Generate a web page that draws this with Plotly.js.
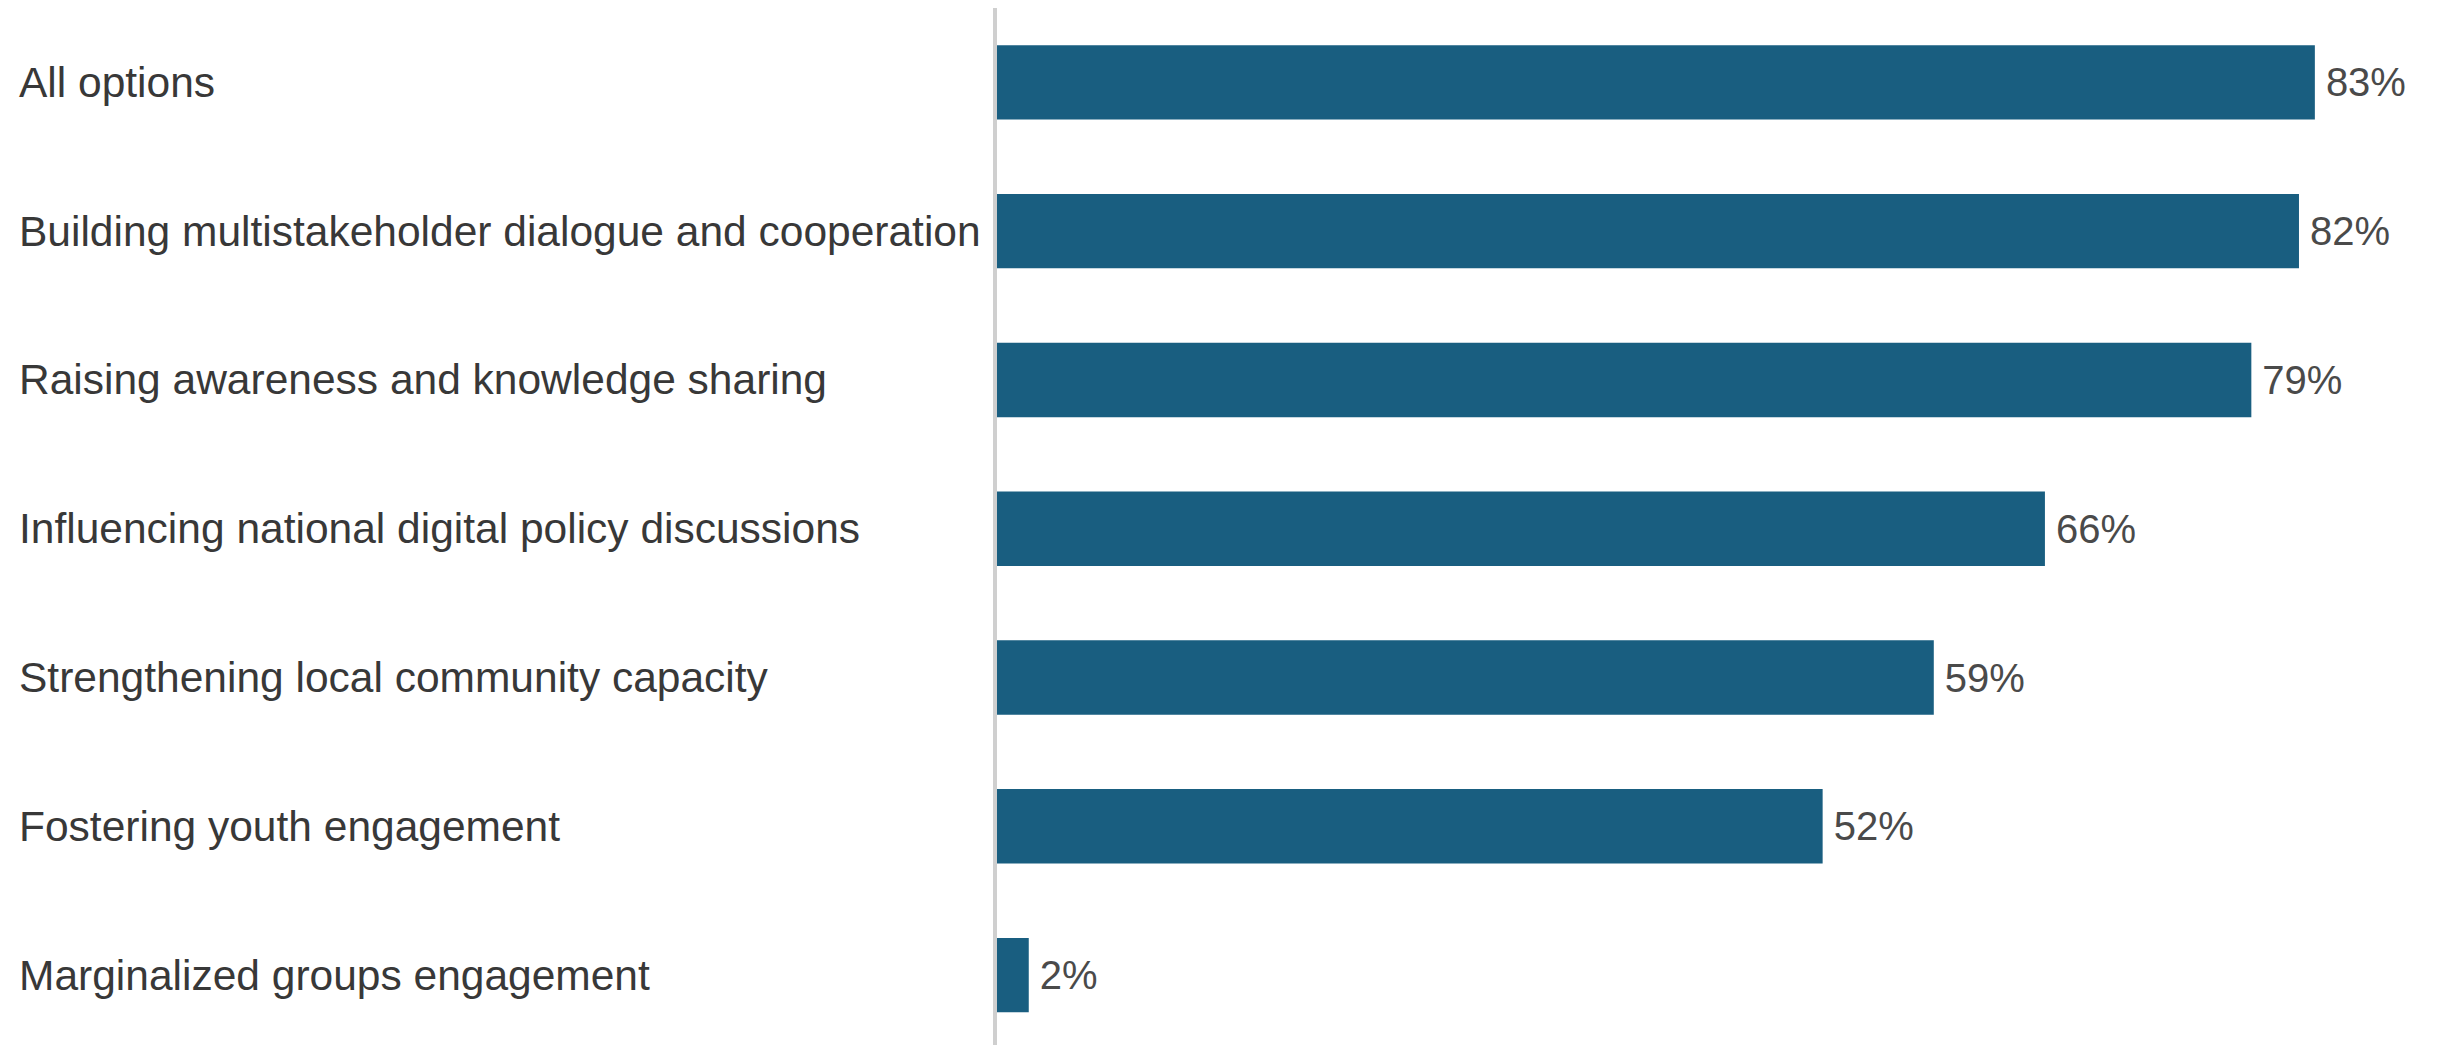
<!DOCTYPE html>
<html>
<head>
<meta charset="utf-8">
<script src="https://cdn.plot.ly/plotly-3.0.1.min.js"></script>
<style>html,body{margin:0;padding:0;background:#fff;}#chart{width:2438px;height:1045px;}</style>
</head>
<body>
<div id="chart"></div>
<script>
const categories = [
  "All options",
  "Building multistakeholder dialogue and cooperation",
  "Raising awareness and knowledge sharing",
  "Influencing national digital policy discussions",
  "Strengthening local community capacity",
  "Fostering youth engagement",
  "Marginalized groups engagement"
];
const values = [83, 82, 79, 66, 59, 52, 2];
const valueLabels = values.map(v => v + "%");

const FONT = "Liberation Sans, Arial, sans-serif";
const L = 997, W = 2438, R = 12;
const plotW = W - L - R;
const labelLeftPx = 17;

const trace = {
  type: "bar",
  orientation: "h",
  x: values,
  y: categories,
  text: valueLabels,
  texttemplate: "\u2009%{text}",
  textposition: "outside",
  constraintext: "none",
  cliponaxis: false,
  textfont: {family: FONT, size: 40, color: "#4a4a4a"},
  marker: {color: "#195e80", line: {width: 0}},
  hoverinfo: "none"
};

const annotations = categories.map(c => ({
  text: c,
  xref: "paper",
  yref: "y",
  x: (labelLeftPx - L) / plotW,
  y: c,
  xanchor: "left",
  yanchor: "middle",
  showarrow: false,
  font: {family: FONT, size: 42.5, color: "#383838"}
}));

const layout = {
  width: 2438,
  height: 1045,
  margin: {l: L, r: R, t: 8, b: 0, pad: 0},
  paper_bgcolor: "#ffffff",
  plot_bgcolor: "#ffffff",
  showlegend: false,
  bargap: 0.5,
  xaxis: {
    range: [0, 90],
    showgrid: false,
    zeroline: false,
    showticklabels: false,
    showline: false,
    fixedrange: true
  },
  yaxis: {
    type: "category",
    categoryorder: "array",
    categoryarray: categories,
    range: [6.47, -0.5],
    showgrid: false,
    zeroline: false,
    showticklabels: false,
    ticks: "",
    showline: true,
    linecolor: "#cfcfcf",
    linewidth: 4,
    fixedrange: true
  },
  annotations: annotations
};

Plotly.newPlot("chart", [trace], layout, {displayModeBar: false, staticPlot: true});
</script>
</body>
</html>
